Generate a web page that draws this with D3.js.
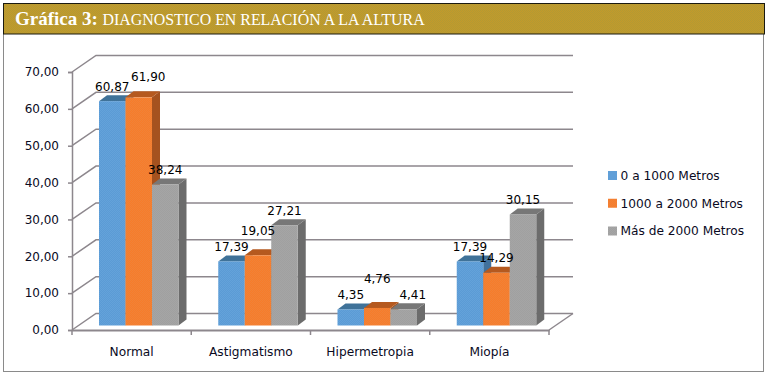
<!DOCTYPE html>
<html lang="es">
<head>
    <meta charset="UTF-8">
    <title>Gráfica 3</title>
    <script src="https://cdn.jsdelivr.net/npm/d3@7"></script>
    <style>
        html, body {margin: 0; padding: 0; background: #fff;}
        svg {display: block;}
        text {font-family: "DejaVu Sans", sans-serif; fill: #0a0a1e;}
    </style>
</head>
<body>
<script type="text/javascript">
    var categories = ["Normal", "Astigmatismo", "Hipermetropia", "Miopía"];
    var seriesNames = ["0 a 1000 Metros", "1000 a 2000 Metros", "Más de 2000 Metros"];
    var alturaBaja = [60.87, 17.39, 4.35, 17.39];
    var alturaMedia = [61.90, 19.05, 4.76, 14.29];
    var alturaAlta = [38.24, 27.21, 4.41, 30.15];
    var yTicks = [0, 10, 20, 30, 40, 50, 60, 70];

    var width = 768;
    var height = 377;
    var coma = d3.format(".2f");

    var svg = d3.select('body').append('svg')
            .attr('width', width)
            .attr('height', height);

    var series = [
        {name: seriesNames[0], values: alturaBaja, front: "#5b9bd5", dots: "#64a2da", top: "#3f7299", side: "#41719c"},
        {name: seriesNames[1], values: alturaMedia, front: "#f77c2a", dots: "#f08238", top: "#b5591f", side: "#a5521f"},
        {name: seriesNames[2], values: alturaAlta, front: "#a5a5a5", dots: "#a0a0a0", top: "#777777", side: "#6c6c6c"}
    ];

    //punteado del gif original
    var defs = svg.append('defs');
    function dither(id, c1, c2) {
        var p = defs.append('pattern')
                .attr('id', id)
                .attr('width', 2)
                .attr('height', 2)
                .attr('patternUnits', 'userSpaceOnUse');
        p.append('rect').attr('width', 2).attr('height', 2).attr('fill', c1);
        p.append('rect').attr('width', 1).attr('height', 1).attr('fill', c2);
        p.append('rect').attr('x', 1).attr('y', 1).attr('width', 1).attr('height', 1).attr('fill', c2);
    }
    dither('ditherTitle', '#c49a2a', '#b29a34');
    series.forEach(function (s, i) {
        dither('ditherFront' + i, s.front, s.dots);
    });

    //escalas
    var x = d3.scaleBand()
            .domain(categories)
            .range([72, 549]);
    var y = d3.scaleLinear()
            .domain([0, 70])
            .range([330, 72]);

    var wallX = 24;     //desplazamiento de la pared del fondo
    var wallY = -16.5;
    var barY = -4.5;    //desplazamiento de la barra respecto al eje
    var depthX = 8;     //profundidad de cada barra
    var depthY = -6;

    var group = d3.scaleBand()
            .domain(d3.range(series.length))
            .range([0, x.bandwidth() * 2 / 3]);
    var groupStart = 27;

    //marco y cabecera
    svg.append('rect')
            .attr('x', 3.5)
            .attr('y', 20)
            .attr('width', 760)
            .attr('height', 351.5)
            .attr('fill', '#fff')
            .attr('stroke', '#8a8a8a')
            .attr('stroke-width', 1);
    svg.append('rect')
            .attr('x', 3.5)
            .attr('y', 3.5)
            .attr('width', 761)
            .attr('height', 30.5)
            .attr('fill', 'url(#ditherTitle)')
            .attr('stroke', '#1a1a10')
            .attr('stroke-width', 1);
    var title = svg.append('text')
            .attr('x', 15)
            .attr('y', 25)
            .style('font-family', '"Liberation Serif", serif')
            .style('font-size', '15.9px')
            .style('fill', '#fff');
    title.append('tspan')
            .style('font-weight', 'bold')
            .style('font-size', '19px')
            .style('fill', '#fff')
            .text('Gráfica 3: ');
    title.append('tspan')
            .style('fill', '#fff')
            .text('DIAGNOSTICO EN RELACIÓN A LA ALTURA');

    //rejilla: pared izquierda y pared del fondo
    var grid = svg.append('g').attr('class', 'grid');
    grid.selectAll('.gridLine')
            .data(yTicks)
            .enter()
            .append('polyline')
            .attr('class', 'gridLine')
            .attr('fill', 'none')
            .attr('stroke', '#8d878d')
            .attr('stroke-width', 1.5)
            .attr('points', function (d) {
                return [
                    [x.range()[0], y(d)],
                    [x.range()[0] + wallX, y(d) + wallY],
                    [x.range()[1] + wallX, y(d) + wallY]
                ].join(' ');
            });
    //borde derecho del suelo
    grid.append('line')
            .attr('x1', x.range()[1])
            .attr('y1', y(0))
            .attr('x2', x.range()[1] + wallX)
            .attr('y2', y(0) + wallY)
            .attr('stroke', '#8d878d')
            .attr('stroke-width', 1.5);

    //barras
    var barWidth = group.bandwidth();
    function barLeft(cat, j) {
        return x(cat) + groupStart + group(j);
    }
    function barTop(v) {
        return y(v) + barY;
    }

    series.forEach(function (s, j) {
        var bars = svg.append('g')
                .attr('class', 'serie' + j)
                .selectAll('g')
                .data(categories.map(function (c, i) {
                    return {cat: c, value: s.values[i]};
                }))
                .enter()
                .append('g');

        bars.append('polygon')
                .attr('fill', s.side)
                .attr('points', function (d) {
                    var r = barLeft(d.cat, j) + barWidth;
                    return [
                        [r, barTop(d.value)],
                        [r + depthX, barTop(d.value) + depthY],
                        [r + depthX, barTop(0) + depthY],
                        [r, barTop(0)]
                    ].join(' ');
                });
        bars.append('polygon')
                .attr('fill', s.top)
                .attr('points', function (d) {
                    var l = barLeft(d.cat, j);
                    return [
                        [l, barTop(d.value)],
                        [l + depthX, barTop(d.value) + depthY],
                        [l + barWidth + depthX, barTop(d.value) + depthY],
                        [l + barWidth, barTop(d.value)]
                    ].join(' ');
                });
        bars.append('rect')
                .attr('fill', 'url(#ditherFront' + j + ')')
                .attr('x', function (d) {
                    return barLeft(d.cat, j);
                })
                .attr('y', function (d) {
                    return barTop(d.value);
                })
                .attr('width', barWidth)
                .attr('height', function (d) {
                    return barTop(0) - barTop(d.value);
                });
    });

    //ejes
    var yAxis = d3.axisLeft(y)
            .tickValues(yTicks)
            .tickSize(4)
            .tickPadding(9)
            .tickFormat(function (d) {
                return coma(d).replace('.', ',');
            });
    var xAxis = d3.axisBottom(x)
            .tickSize(0)
            .tickPadding(17);

    var gy = svg.append('g')
            .attr('transform', 'translate(' + x.range()[0] + ',0)')
            .call(yAxis);
    var gx = svg.append('g')
            .attr('transform', 'translate(0,' + y(0) + ')')
            .call(xAxis);
    //marcas del eje x entre categorias
    gx.selectAll('.sep')
            .data(d3.range(categories.length + 1))
            .enter()
            .append('line')
            .attr('class', 'sep')
            .attr('x1', function (i) {
                return x.range()[0] + i * x.step();
            })
            .attr('x2', function (i) {
                return x.range()[0] + i * x.step();
            })
            .attr('y1', 0)
            .attr('y2', 5)
            .attr('stroke', '#8d878d')
            .attr('stroke-width', 1.5);

    gy.selectAll('.domain, line').attr('stroke', '#8d878d').attr('stroke-width', 1.5);
    gx.select('.domain').attr('stroke', '#8d878d').attr('stroke-width', 2);
    gy.selectAll('text').style('font-size', '12px').style('font-family', '"DejaVu Sans", sans-serif');
    gx.selectAll('text').style('font-size', '12.2px').style('font-family', '"DejaVu Sans", sans-serif');

    //etiquetas de valor, con los ajustes que tienen en el original
    var labelNudge = {
        "1-0": [9.5, -6],
        "1-1": [0, -10],
        "1-2": [0, -15],
        "2-2": [9, 0]
    };
    series.forEach(function (s, j) {
        svg.append('g')
                .selectAll('text')
                .data(s.values)
                .enter()
                .append('text')
                .attr('text-anchor', 'middle')
                .attr('dy', '.35em')
                .style('font-size', '12px')
                .style('fill', '#000')
                .attr('x', function (d, i) {
                    var n = labelNudge[j + '-' + i] || [0, 0];
                    return barLeft(categories[i], j) + barWidth / 2 + n[0];
                })
                .attr('y', function (d, i) {
                    var n = labelNudge[j + '-' + i] || [0, 0];
                    return barTop(d) - 14.6 + n[1];
                })
                .text(function (d) {
                    return coma(d).replace('.', ',');
                });
    });

    //leyenda
    var legendY = d3.scalePoint()
            .domain(seriesNames)
            .range([175.5, 231]);
    var legend = svg.append('g')
            .selectAll('g')
            .data(series)
            .enter()
            .append('g')
            .attr('transform', function (d) {
                return 'translate(608,' + legendY(d.name) + ')';
            });
    legend.append('rect')
            .attr('y', -4.5)
            .attr('width', 9)
            .attr('height', 9)
            .attr('fill', function (d, i) {
                return 'url(#ditherFront' + i + ')';
            });
    legend.append('text')
            .attr('x', 12.5)
            .attr('dy', '.35em')
            .style('font-size', '12.2px')
            .text(function (d) {
                return d.name;
            });
</script>
</body>
</html>
